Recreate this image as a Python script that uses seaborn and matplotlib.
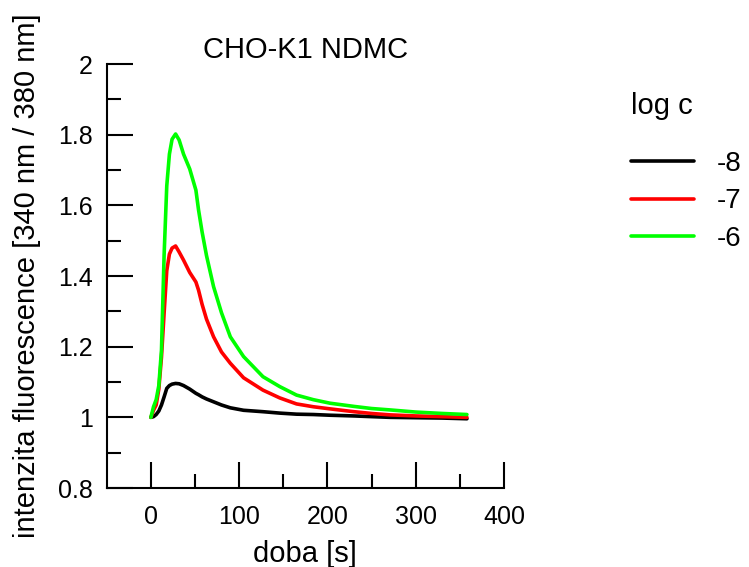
import pandas as pd
import matplotlib
matplotlib.use("Agg")
import matplotlib.pyplot as plt
from matplotlib.ticker import FuncFormatter
import seaborn as sns

# time [s]
doba = [0, 3, 6, 9, 12, 15, 18, 21, 24, 28, 32, 37, 44, 51, 54, 58, 63, 71, 80, 90,
        105, 127, 146, 165, 184, 203, 230, 250, 271, 300, 330, 358]

# log c = -8
c_m8 = [1.000, 1.002, 1.008, 1.018, 1.035, 1.058, 1.082, 1.090, 1.094, 1.096, 1.095,
        1.090, 1.080, 1.068, 1.064, 1.058, 1.052, 1.044, 1.035, 1.027, 1.020, 1.016,
        1.012, 1.009, 1.008, 1.006, 1.004, 1.002, 1.000, 0.999, 0.998, 0.996]
# log c = -7
c_m7 = [1.000, 1.020, 1.035, 1.080, 1.170, 1.295, 1.415, 1.462, 1.479, 1.485, 1.468,
        1.445, 1.410, 1.383, 1.360, 1.320, 1.278, 1.228, 1.185, 1.153, 1.112, 1.077,
        1.055, 1.038, 1.030, 1.024, 1.016, 1.011, 1.007, 1.004, 1.002, 1.000]
# log c = -6
c_m6 = [1.000, 1.030, 1.050, 1.090, 1.190, 1.460, 1.655, 1.745, 1.787, 1.802, 1.785,
        1.745, 1.703, 1.643, 1.587, 1.525, 1.458, 1.370, 1.296, 1.228, 1.172, 1.115,
        1.087, 1.063, 1.050, 1.040, 1.031, 1.025, 1.021, 1.015, 1.011, 1.008]

series = {"-8": c_m8, "-7": c_m7, "-6": c_m6}
colors = {"-8": "#000000", "-7": "#ff0000", "-6": "#00ff00"}

df = pd.concat([pd.DataFrame({"doba": doba, "val": v, "log c": k})
                for k, v in series.items()], ignore_index=True)

sns.set_theme(style="ticks")
plt.rcParams['font.family'] = ['Liberation Sans', 'DejaVu Sans']
plt.rcParams['text.color'] = 'black'
plt.rcParams['axes.labelcolor'] = 'black'

fig = plt.figure(figsize=(7.49, 5.67), dpi=100)
ax = fig.add_axes([0.1425, 0.1393, 0.5304, 0.7478])

sns.lineplot(data=df, x="doba", y="val", hue="log c", palette=colors,
             lw=2.6, ax=ax)

ax.set_xlim(-50, 400)
ax.set_ylim(0.8, 2.0)
ax.set_xticks([0, 100, 200, 300, 400])
ax.set_xticks([50, 150, 250, 350], minor=True)
ax.set_yticks([0.8, 1.0, 1.2, 1.4, 1.6, 1.8, 2.0])
ax.set_yticks([0.9, 1.1, 1.3, 1.5, 1.7, 1.9], minor=True)
ax.yaxis.set_major_formatter(FuncFormatter(lambda v, p: f"{v:g}"))

ax.tick_params(which="major", direction="in", length=19, width=1.5,
               labelsize=18, pad=10, color="black", labelcolor="black")
ax.tick_params(which="minor", direction="in", length=10, width=1.5, color="black")
ax.tick_params(axis="x", which="major", pad=12)
for s in ["left", "bottom"]:
    ax.spines[s].set_linewidth(1.5)
    ax.spines[s].set_color("black")
sns.despine(ax=ax)

ax.set_xlabel("doba [s]", fontsize=21, labelpad=8)
ax.set_ylabel("intenzita fluorescence [340 nm / 380 nm]", fontsize=21, labelpad=12)
ax.set_title("CHO-K1 NDMC", fontsize=21, pad=-5.5)

sns.move_legend(ax, "upper left", bbox_to_anchor=(0.827, 0.857),
                bbox_transform=fig.transFigure, frameon=False, title="log c",
                fontsize=20, title_fontsize=21, handlelength=2.3,
                handletextpad=0.8, labelspacing=0.42, borderaxespad=0,
                alignment="left")
leg = ax.get_legend()
leg._legend_box.sep = 22

fig.savefig("out.png", dpi=100)
